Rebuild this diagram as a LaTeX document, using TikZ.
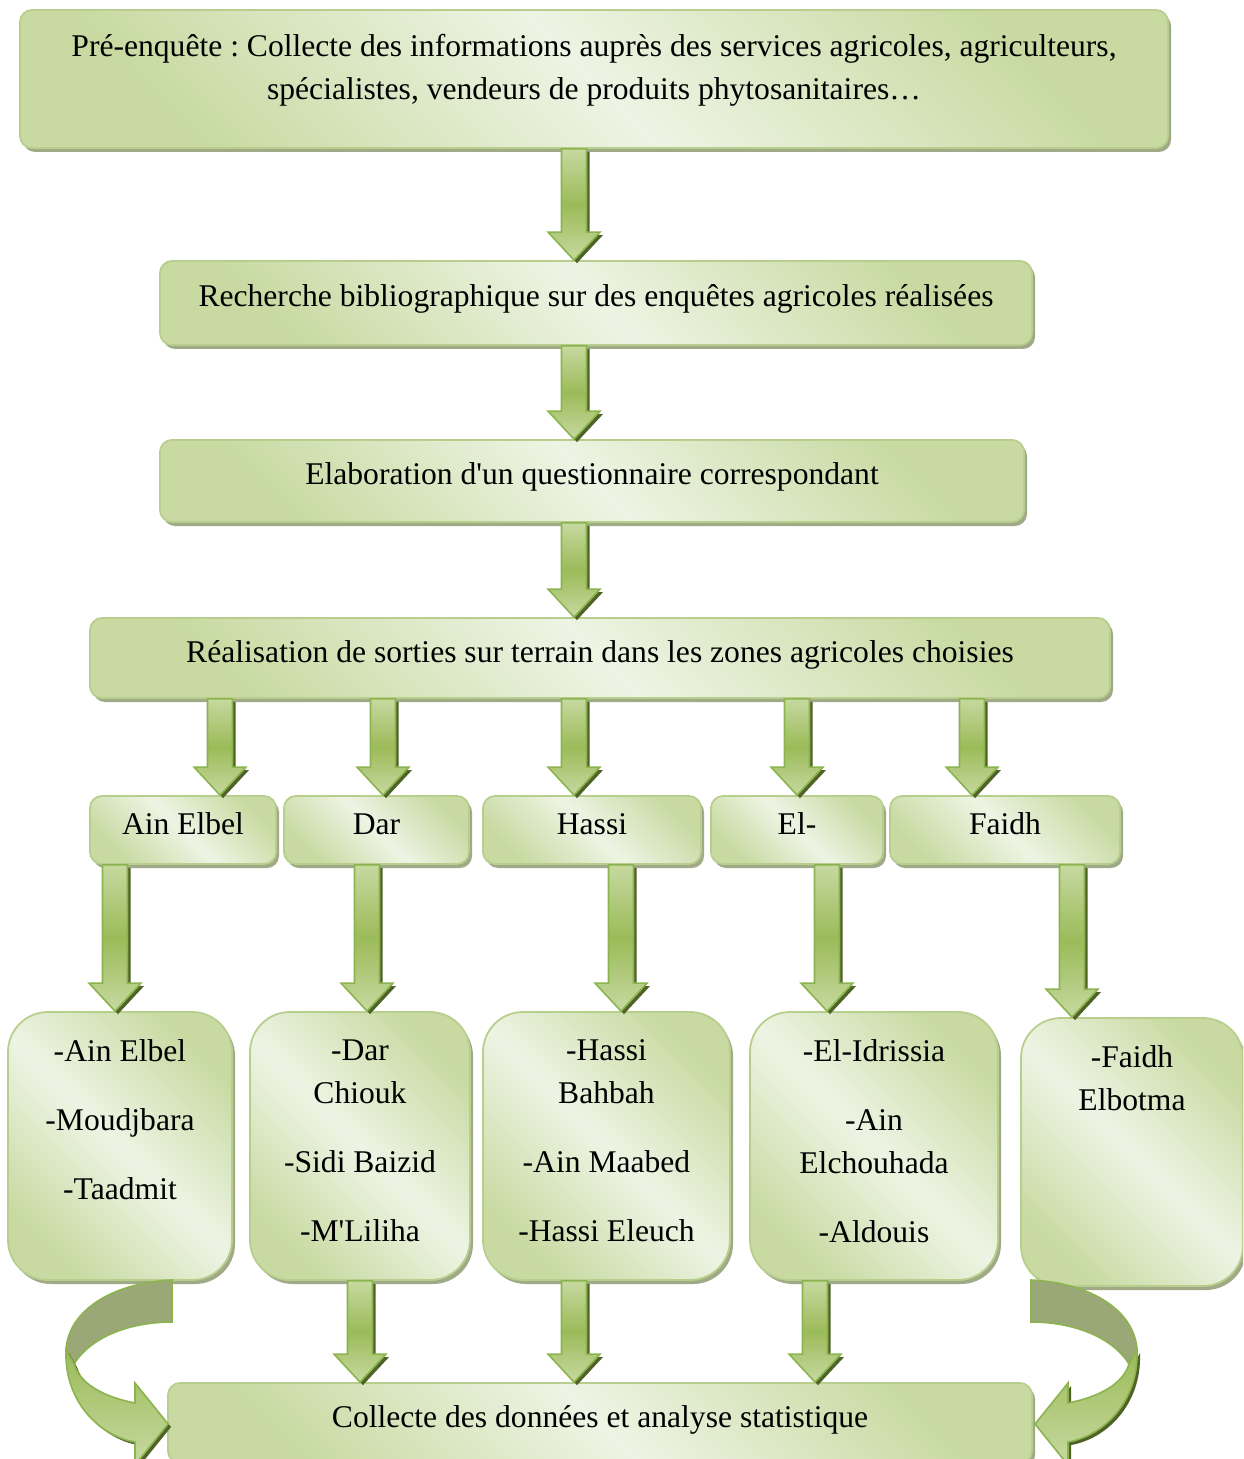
\documentclass[tikz,border=0pt]{standalone}
\usepackage{fontspec}
\setmainfont{Liberation Serif}
\usepackage{tikz}
\usetikzlibrary{calc,shadows}
\definecolor{boxdark}{RGB}{200,218,162}
\definecolor{boxlight}{RGB}{238,244,228}
\definecolor{boxedge}{RGB}{184,206,140}
\definecolor{boxshadow}{RGB}{160,170,134}
\definecolor{arrowmid}{RGB}{155,187,89}
\definecolor{arrowlight}{RGB}{198,217,160}
\definecolor{arrowedge}{RGB}{140,180,78}
\definecolor{arrowshadow}{RGB}{79,98,40}
\definecolor{arrowback}{RGB}{154,168,120}
\frenchspacing
\tikzset{
  boxbase/.style={draw=boxedge, line width=0.9pt,
                  top color=boxdark, bottom color=boxdark, middle color=boxlight,
                  shading angle=-45,
                  general shadow={fill=boxshadow, shadow xshift=1.5pt, shadow yshift=-2pt},
                  font=\fontsize{15.8}{21.5}\selectfont},
  stepbox/.style={boxbase, rounded corners=6pt, text height=10pt, text depth=6pt},
  topbox/.style={boxbase, rounded corners=6pt, inner xsep=4pt, inner ysep=12pt},
  placebox/.style={boxbase, rounded corners=20pt, inner xsep=3pt, inner ysep=14pt},
  fatarrow/.style={draw=arrowedge, line width=0.8pt,
                   top color=arrowlight, bottom color=arrowlight, middle color=arrowmid,
                   preaction={fill=arrowshadow, transform canvas={xshift=1.5pt, yshift=-1.5pt}},
                   to path={let \p1=(\tikztostart), \p2=($(\tikztotarget)+(#1,0)$) in
                     (\x2-6.25pt,\y1) -- (\x2+6.25pt,\y1) -- (\x2+6.25pt,\y2+14pt)
                     -- (\x2+13pt,\y2+14pt) -- (\x2,\y2) -- (\x2-13pt,\y2+14pt)
                     -- (\x2-6.25pt,\y2+14pt) -- cycle}},
  fatarrow/.default=0,
  curveback/.style={fill=arrowback, draw=arrowedge, line width=0.8pt},
  curvefront/.style={draw=arrowedge, line width=0.8pt, top color=arrowmid, bottom color=arrowlight,
                     preaction={fill=arrowshadow, transform canvas={xshift=1.5pt, yshift=-1.5pt}}},
}

\begin{document}
\begin{tikzpicture}[x=0.5pt,y=-0.5pt]
  \useasboundingbox (0,0) rectangle (1243,1459);
  \clip (0,0) rectangle (1243,1459);
  % etapes principales
  \node[topbox] (pre) at (594,79) {\parbox[c][45pt][t]{566pt}{\centering Pré-enquête : Collecte des informations auprès des services agricoles, agriculteurs,\\ spécialistes, vendeurs de produits phytosanitaires…}};
  \node[stepbox, minimum width=436pt, minimum height=42pt] (biblio) at (596,303) {Recherche bibliographique sur des enquêtes agricoles réalisées};
  \node[stepbox, minimum width=432pt, minimum height=41pt] (quest) at (592,481) {Elaboration d\textquotesingle un questionnaire correspondant};
  \node[stepbox, minimum width=510pt, minimum height=40pt] (real) at (600,658) {Réalisation de sorties sur terrain dans les zones agricoles choisies};
  % zones
  \node[stepbox, minimum width=93pt, minimum height=34pt] (zA) at (183,830) {Ain Elbel};
  \node[stepbox, minimum width=92.5pt, minimum height=34pt] (zB) at (376.5,830) {Dar};
  \node[stepbox, minimum width=109pt, minimum height=34pt] (zC) at (592,830) {Hassi};
  \node[stepbox, minimum width=86pt, minimum height=34pt] (zD) at (797,830) {El-};
  \node[stepbox, minimum width=115pt, minimum height=34pt] (zE) at (1005,830) {Faidh};
  % communes
  \node[placebox] (pA) at (120,1146) {\parbox[c][106pt][t]{106pt}{\centering -Ain Elbel\\[13pt] -Moudjbara\\[13pt] -Taadmit}};
  \node[placebox] (pB) at (360,1146) {\parbox[c][106pt][t]{104pt}{\centering -Dar\\ Chiouk\\[13pt] -Sidi Baizid\\[13pt] -M\textquotesingle Liliha}};
  \node[placebox] (pC) at (606.5,1146) {\parbox[c][106pt][t]{117.5pt}{\centering -Hassi\\ Bahbah\\[13pt] -Ain Maabed\\[13pt] -Hassi Eleuch}};
  \node[placebox] (pD) at (874,1146) {\parbox[c][106pt][t]{118pt}{\centering -El-Idrissia\\[13pt] -Ain\\ Elchouhada\\[13pt] -Aldouis}};
  \node[placebox] (pE) at (1132,1152) {\parbox[c][106pt][t]{105pt}{\centering -Faidh\\ Elbotma}};
  \node[stepbox, minimum width=432pt, minimum height=40pt] (fin) at (600,1423) {Collecte des données et analyse statistique};
  % fleches droites
  \path[fatarrow=-22] (pre.south) to (biblio.north);
  \path[fatarrow=-18] (biblio.south) to (quest.north);
  \path[fatarrow=-26] (quest.south) to (real.north);
  \path[fatarrow=37] (real.south) to (zA.north);
  \path[fatarrow=6.5] (real.south) to (zB.north);
  \path[fatarrow=-18] (real.south) to (zC.north);
  \path[fatarrow] (real.south) to (zD.north);
  \path[fatarrow=-33] (real.south) to (zE.north);
  \path[fatarrow=-5] (zA.south) to (pA.north);
  \path[fatarrow=7] (zB.south) to (pB.north);
  \path[fatarrow=14.5] (zC.south) to (pC.north);
  \path[fatarrow=-47] (zD.south) to (pD.north);
  \path[fatarrow=-60] (zE.south) to (pE.north);
  \path[fatarrow=-240] (pB.south) to (fin.north);
  \path[fatarrow=-26] (pC.south) to (fin.north);
  \path[fatarrow=215] (pD.south) to (fin.north);
  % fleches courbes vers la collecte
  \path[curveback] (172,1280) .. controls (110,1283) and (68,1312) .. (66,1350)
    -- (74,1364) .. controls (90,1338) and (128,1322) .. (172,1322) -- cycle;
  \path[curvefront] (66,1350) .. controls (64,1402) and (100,1436) .. (135,1442)
    -- (135,1465) -- (168,1424) -- (135,1383) -- (135,1403)
    .. controls (104,1397) and (80,1384) .. (74,1364) -- cycle;
  \begin{scope}[shift={(1203,0)}, xscale=-1]
    \path[curveback] (172,1280) .. controls (110,1283) and (68,1312) .. (66,1350)
      -- (74,1364) .. controls (90,1338) and (128,1322) .. (172,1322) -- cycle;
    \path[curvefront] (66,1350) .. controls (64,1402) and (100,1436) .. (135,1442)
      -- (135,1465) -- (168,1424) -- (135,1383) -- (135,1403)
      .. controls (104,1397) and (80,1384) .. (74,1364) -- cycle;
  \end{scope}
\end{tikzpicture}
\end{document}
